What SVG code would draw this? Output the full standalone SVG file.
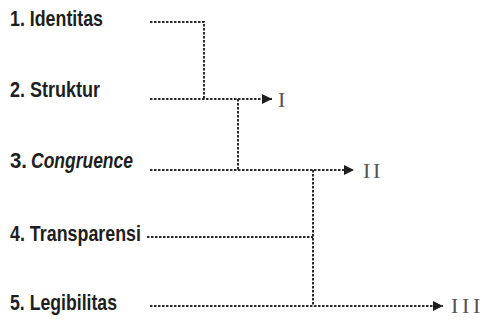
<svg xmlns="http://www.w3.org/2000/svg" width="484" height="321" viewBox="0 0 484 321">
<style>
.lbl{font-family:"Liberation Sans",Arial,sans-serif;font-weight:bold;font-size:22px;fill:#1e1e1e}
.num{font-family:"Liberation Serif","Times New Roman",serif;font-size:22px;fill:#555}
.ln{fill:none;stroke:#2a2a2a;stroke-width:2;stroke-dasharray:2.5 1.5}
</style>
<defs>
<marker id="arr" viewBox="0 0 10 10" refX="10" refY="5" markerWidth="10" markerHeight="10" markerUnits="userSpaceOnUse" orient="auto">
<path d="M0,0 L10,5 L0,10 z" fill="#1e1e1e"/>
</marker>
</defs>
<rect width="484" height="321" fill="#fff"/>
<g id="n1"><text class="lbl" x="10" y="26" textLength="93" lengthAdjust="spacingAndGlyphs">1. Identitas</text></g>
<g id="n2"><text class="lbl" x="10" y="97" textLength="90" lengthAdjust="spacingAndGlyphs">2. Struktur</text></g>
<g id="n3"><text class="lbl" x="10" y="168" textLength="17" lengthAdjust="spacingAndGlyphs">3.</text><text class="lbl" x="31" y="168" font-style="italic" textLength="102" lengthAdjust="spacingAndGlyphs">Congruence</text></g>
<g id="n4"><text class="lbl" x="10" y="241" textLength="131" lengthAdjust="spacingAndGlyphs">4. Transparensi</text></g>
<g id="n5"><text class="lbl" x="10" y="310" textLength="107" lengthAdjust="spacingAndGlyphs">5. Legibilitas</text></g>
<g id="r1"><text class="num" x="278" y="107">I</text></g>
<g id="r2"><text class="num" x="363 373" y="178">II</text></g>
<g id="r3"><text class="num" x="451 462 473" y="313">III</text></g>
<g id="connectors">
<path class="ln" d="M150,22 H204 V99"/>
<path class="ln" d="M150,99 H272" marker-end="url(#arr)"/>
<path class="ln" d="M238,99 V170"/>
<path class="ln" d="M150,170 H354" marker-end="url(#arr)"/>
<path class="ln" d="M313,170 V306"/>
<path class="ln" d="M147,237 H313"/>
<path class="ln" d="M150,306 H443" marker-end="url(#arr)"/>
</g>
</svg>
